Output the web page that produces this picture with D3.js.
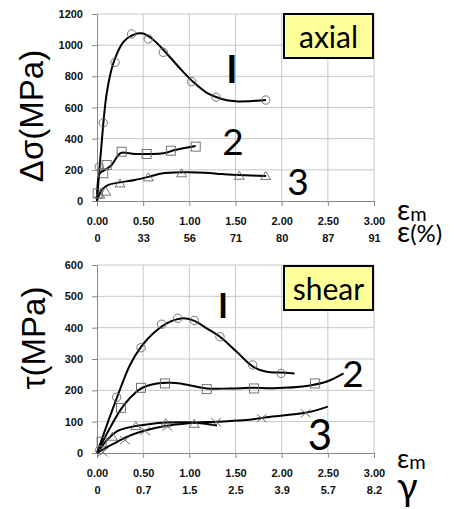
<!DOCTYPE html>
<html>
<head>
<meta charset="utf-8">
<script src="https://cdn.jsdelivr.net/npm/d3@7"></script>
<style>
  html, body { margin: 0; padding: 0; background: #fff; }
  svg { display: block; }
</style>
</head>
<body>
<svg id="chart" width="454" height="509"></svg>
<script>
// ---- shared axis ticks ----
const strainTicks = [0, 0.5, 1.0, 1.5, 2.0, 2.5, 3.0];
const percentLabels = ["0", "33", "56", "71", "80", "87", "91"];
const gammaLabels = ["0", "0.7", "1.5", "2.5", "3.9", "5.7", "8.2"];
const axialTicks = [0, 200, 400, 600, 800, 1000, 1200];
const shearTicks = [0, 100, 200, 300, 400, 500, 600];

// ---- axial panel: measured points and fitted curves [strain, stress] ----
const axial1Pts = [[0.025, 220], [0.068, 502], [0.195, 890], [0.375, 1072], [0.556, 1040], [0.718, 954], [1.026, 766], [1.289, 666], [1.827, 648]];
const axial1Fit = [[0, 0], [0.04, 300], [0.105, 690], [0.177, 884], [0.285, 1020], [0.4, 1068], [0.484, 1076], [0.6, 1040], [0.75, 950], [0.9, 850], [1.05, 760], [1.2, 690], [1.35, 655], [1.5, 640], [1.65, 640], [1.83, 648]];
const axial2Pts = [[0.007, 49], [0.068, 178], [0.105, 231], [0.267, 316], [0.538, 302], [0.80, 323], [1.069, 349]];
const axial2Fit = [[0, 0], [0.032, 178], [0.087, 199], [0.159, 231], [0.231, 295], [0.267, 310], [0.41, 302], [0.556, 302], [0.718, 306], [0.845, 327], [1.069, 353]];
const axial3Pts = [[0.03, 40], [0.094, 60], [0.249, 113], [0.556, 152], [0.917, 178], [1.541, 162], [1.827, 160]];
const axial3Fit = [[0, 0], [0.05, 71], [0.123, 103], [0.231, 118], [0.41, 135], [0.592, 160], [0.70, 176], [0.917, 184], [1.17, 182], [1.35, 173], [1.54, 167], [1.83, 160]];

// ---- shear panel: measured points and fitted curves [strain, stress] ----
const shear1Pts = [[0.03, 10], [0.213, 178], [0.477, 336], [0.70, 411], [0.874, 430], [1.054, 423], [1.332, 371], [1.686, 281], [1.993, 254]];
const shear1Fit = [[0, 0], [0.12, 100], [0.22, 180], [0.357, 281], [0.477, 339], [0.61, 382], [0.755, 414], [0.935, 430], [1.061, 421], [1.188, 398], [1.332, 371], [1.513, 323], [1.693, 275], [1.838, 259], [1.98, 257], [2.14, 254]];
const shear2Pts = [[0.05, 36], [0.26, 144], [0.477, 208], [0.736, 222], [1.188, 204], [1.70, 206], [2.36, 222]];
const shear2Fit = [[0, 0], [0.14, 80], [0.26, 140], [0.34, 170], [0.47, 205], [0.65, 222], [0.8, 224], [0.9, 222], [1.188, 206], [1.44, 206], [1.693, 208], [1.91, 207], [2.27, 214], [2.49, 228], [2.67, 254]];
const shear3aPts = [[0.166, 52], [0.42, 86], [0.745, 95], [1.054, 93]];
const shear3aFit = [[0, 0], [0.12, 45], [0.22, 70], [0.38, 84], [0.56, 92], [0.76, 97], [0.97, 98], [1.12, 95], [1.3, 88]];
const shear3bPts = [[0.062, 2], [0.303, 41], [0.52, 70], [0.762, 84], [1.289, 98], [1.784, 111], [2.26, 127]];
const shear3bFit = [[0, 0], [0.17, 28], [0.33, 52], [0.5, 70], [0.74, 86], [0.99, 95], [1.29, 100], [1.62, 105], [1.84, 114], [2.27, 129], [2.5, 148]];

const svg = d3.select("#chart");
const bigFont = "Lato, 'Open Sans', sans-serif";
const tickFont = "'Liberation Sans', Arial, sans-serif";

function drawPanel(cfg) {
  const x = d3.scaleLinear().domain([0, 3]).range([97, 374]);
  const y = d3.scaleLinear().domain([0, cfg.yMax]).range([cfg.bottom, cfg.top]);
  const g = svg.append("g");

  // grid
  g.append("g").selectAll("line").data(strainTicks.slice(1)).join("line")
    .attr("x1", d => x(d)).attr("x2", d => x(d))
    .attr("y1", y(0)).attr("y2", y(cfg.yMax))
    .attr("stroke", "#c8c8c8").attr("stroke-width", 1);
  g.append("g").selectAll("line").data(cfg.yTicks.slice(1)).join("line")
    .attr("x1", x(0)).attr("x2", x(3))
    .attr("y1", d => y(d)).attr("y2", d => y(d))
    .attr("stroke", "#c8c8c8").attr("stroke-width", 1);

  // axes
  const xAxis = d3.axisBottom(x).tickValues(strainTicks).tickSize(5).tickFormat(d3.format(".2f"));
  const gx = g.append("g").attr("transform", `translate(0,${y(0)})`).call(xAxis);
  gx.select(".domain").attr("stroke", "#888");
  gx.selectAll(".tick line").attr("stroke", "#888");
  gx.selectAll(".tick text").attr("dy", 0).attr("y", 24)
    .style("font", `bold 11px ${tickFont}`).attr("fill", "#111");
  // second label row
  gx.selectAll(".tick").append("text")
    .attr("y", 41).attr("fill", "#111").attr("text-anchor", "middle")
    .style("font", `bold 11px ${tickFont}`)
    .text((d, i) => cfg.secondRow[i]);

  const yAxis = d3.axisLeft(y).tickValues(cfg.yTicks).tickSize(5).tickPadding(9).tickFormat(d3.format("d"));
  const gy = g.append("g").attr("transform", `translate(${x(0)},0)`).call(yAxis);
  gy.select(".domain").attr("stroke", "#888");
  gy.selectAll(".tick line").attr("stroke", "#888");
  gy.selectAll(".tick text").style("font", `bold 11px ${tickFont}`).attr("fill", "#111");

  // fitted curves
  const line = d3.line().x(d => x(d[0])).y(d => y(d[1])).curve(d3.curveCatmullRom.alpha(0.5));
  cfg.series.forEach(s => {
    g.append("path").datum(s.fit).attr("d", line)
      .attr("fill", "none").attr("stroke", "#000").attr("stroke-width", 2);
  });

  // markers
  const mk = "#666";
  cfg.series.forEach(s => {
    const sel = g.append("g").selectAll("g").data(s.pts).join("g")
      .attr("transform", d => `translate(${x(d[0])},${y(d[1])})`);
    if (s.marker === "circle") {
      sel.append("circle").attr("r", 4.2).attr("fill", "none").attr("stroke", mk).attr("stroke-width", 0.9);
    } else if (s.marker === "square") {
      sel.append("rect").attr("x", -4.5).attr("y", -4.5).attr("width", 9).attr("height", 9)
        .attr("fill", "none").attr("stroke", mk).attr("stroke-width", 0.9);
    } else if (s.marker === "triangle") {
      sel.append("path").attr("d", "M0,-4.5L5,3.5L-5,3.5Z")
        .attr("fill", "none").attr("stroke", mk).attr("stroke-width", 0.9);
    } else {
      sel.append("path").attr("d", "M-5,-4L5,4M-5,4L5,-4")
        .attr("fill", "none").attr("stroke", mk).attr("stroke-width", 0.9);
    }
  });

  // legend box
  g.append("rect").attr("x", 284).attr("y", cfg.boxY).attr("width", 89).attr("height", 44)
    .attr("fill", "#ffff99").attr("stroke", "#000").attr("stroke-width", 2);
  g.append("text").attr("x", 328.5).attr("y", cfg.boxY + 34).attr("text-anchor", "middle")
    .style("font", `30px ${bigFont}`).attr("fill", "#000").text(cfg.title);

  // curve numbers
  cfg.labels.forEach(l => {
    g.append("text").attr("x", l.x).attr("y", l.y).attr("text-anchor", "middle")
      .style("font", `${l.bold ? "bold " : ""}${l.size}px ${bigFont}`).attr("fill", "#000").text(l.t);
  });

  // y title
  g.append("text").attr("transform", `translate(${cfg.yTitleX},${cfg.yTitleY}) rotate(-90)`)
    .attr("text-anchor", "middle").style("font", `33px ${tickFont}`).attr("fill", "#000")
    .text(cfg.yTitle);

  // x titles: two stacked lines in one text block
  const t = g.append("text").attr("x", 397).attr("y", y(0) + cfg.emDy)
    .style("font", `${cfg.emSize}px ${bigFont}`).attr("fill", "#000");
  t.append("tspan").text("ε");
  t.append("tspan").attr("dy", 1).style("font-size", "20px").text("m");
  t.append("tspan").attr("x", 397).attr("y", y(0) + cfg.x2Dy)
    .style("font-size", `${cfg.x2Size}px`).text(cfg.xTitle2[0]);
  if (cfg.xTitle2[1]) t.append("tspan").style("font-size", "24px").text(cfg.xTitle2[1]);
}

drawPanel({
  yMax: 1200, top: 14, bottom: 201, yTicks: axialTicks, secondRow: percentLabels,
  title: "axial", boxY: 14, yTitle: "Δσ(MPa)", yTitleX: 43, yTitleY: 116,
  xTitle2: ["ε", "(%)"], emDy: 19, emSize: 29, x2Dy: 41, x2Size: 29,
  series: [
    { pts: axial1Pts, fit: axial1Fit, marker: "circle" },
    { pts: axial2Pts, fit: axial2Fit, marker: "square" },
    { pts: axial3Pts, fit: axial3Fit, marker: "triangle" }
  ],
  labels: [{ t: "I", x: 232, y: 83, size: 38, bold: true }, { t: "2", x: 233, y: 155, size: 37 }, { t: "3", x: 298, y: 195, size: 37 }]
});

drawPanel({
  yMax: 600, top: 265, bottom: 453, yTicks: shearTicks, secondRow: gammaLabels,
  title: "shear", boxY: 266, yTitle: "τ(MPa)", yTitleX: 45, yTitleY: 338,
  xTitle2: ["γ"], emDy: 15, emSize: 27, x2Dy: 47, x2Size: 38,
  series: [
    { pts: shear1Pts, fit: shear1Fit, marker: "circle" },
    { pts: shear2Pts, fit: shear2Fit, marker: "square" },
    { pts: shear3aPts, fit: shear3aFit, marker: "triangle" },
    { pts: shear3bPts, fit: shear3bFit, marker: "cross" }
  ],
  labels: [{ t: "I", x: 223, y: 318, size: 34, bold: true }, { t: "2", x: 353, y: 387, size: 37 }, { t: "3", x: 320, y: 450, size: 42 }]
});
</script>
</body>
</html>
